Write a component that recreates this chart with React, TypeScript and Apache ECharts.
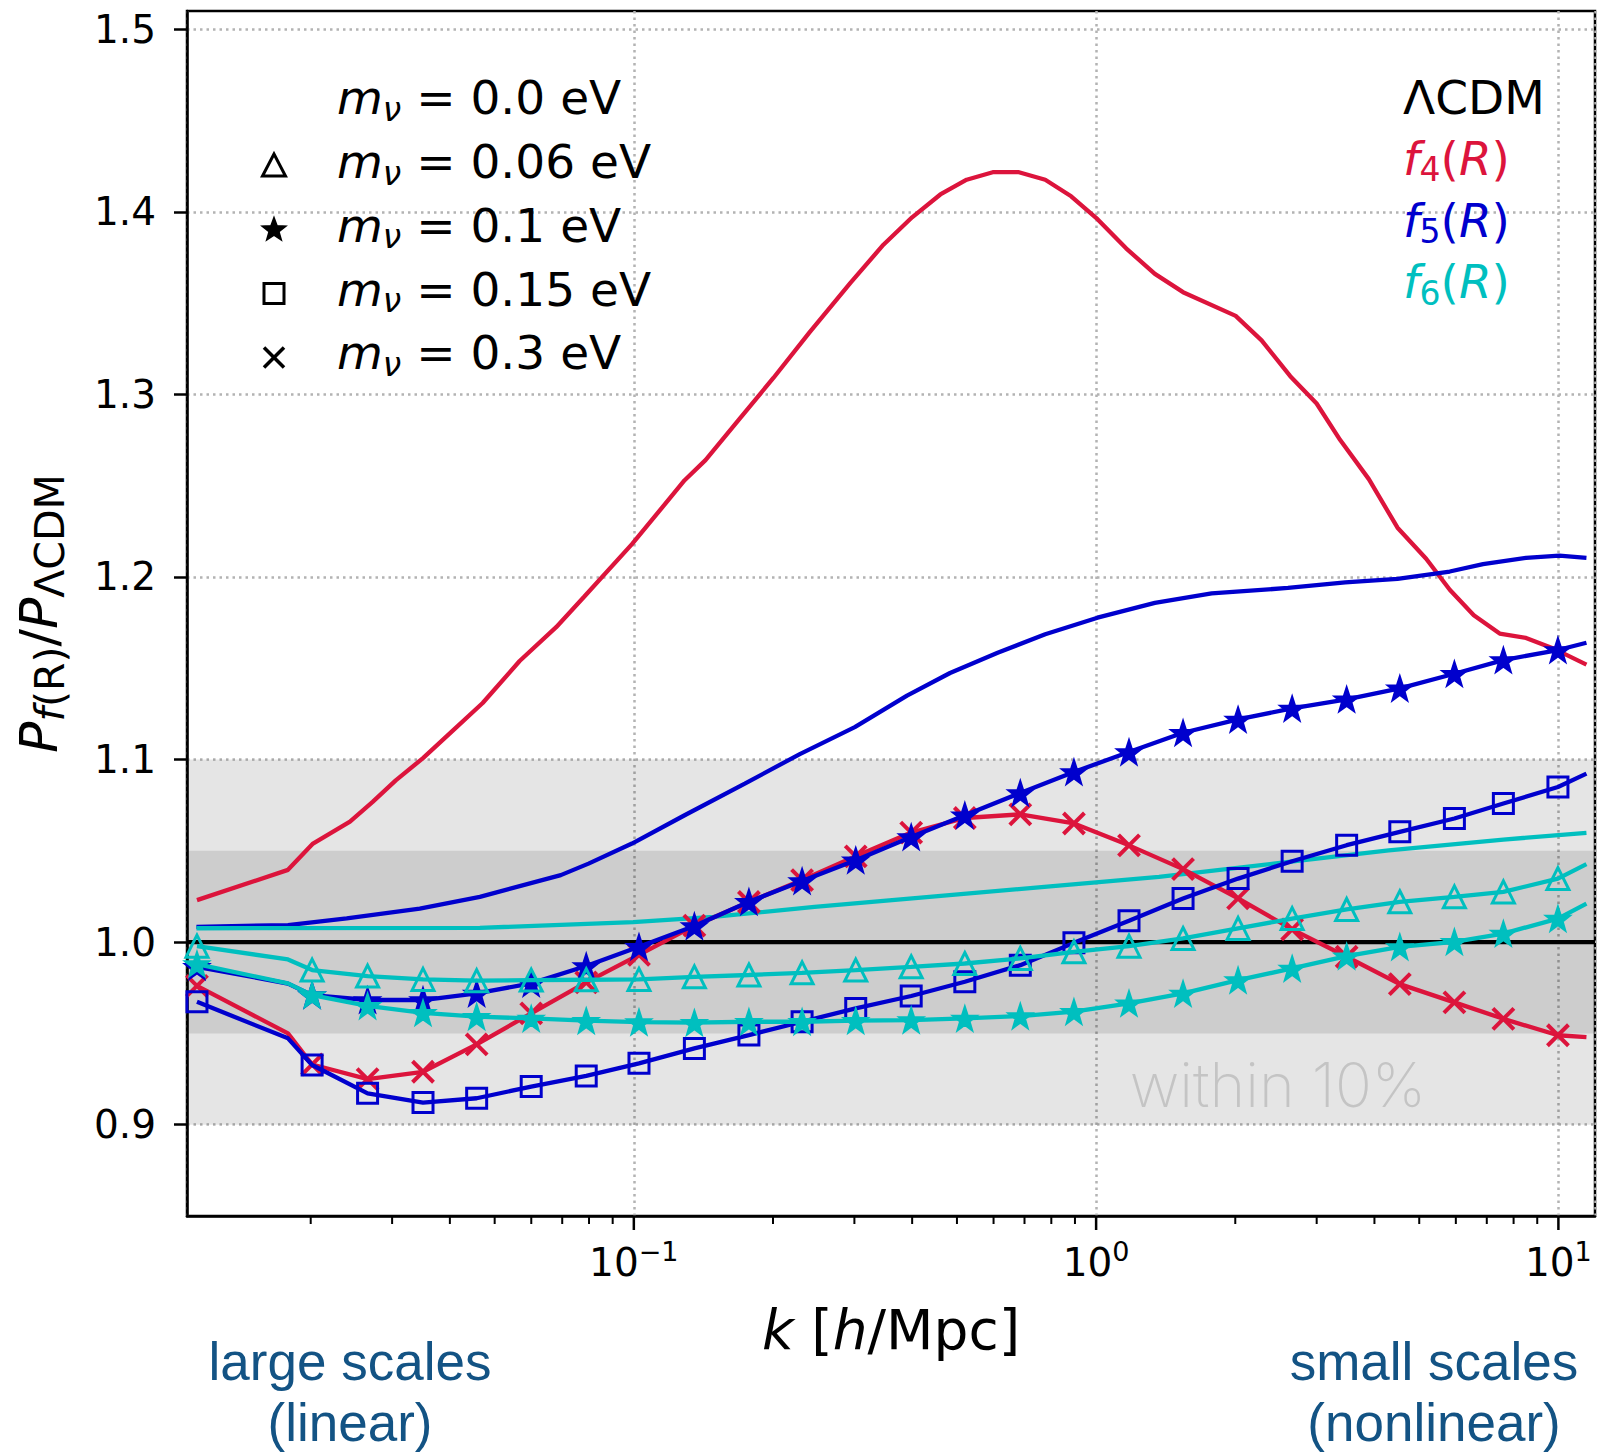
import React, { useEffect, useRef } from "react";
import * as echarts from "echarts";

// ---------------- data ----------------
const X_MIN = 0.0108;
const X_MAX = 12.0;
const Y_MIN = 0.85;
const Y_MAX = 1.51;
const X_MAJOR_TICKS = [0.1, 1, 10];
const X_MINOR_TICKS = [
  0.02, 0.03, 0.04, 0.05, 0.06, 0.07, 0.08, 0.09,
  0.2, 0.3, 0.4, 0.5, 0.6, 0.7, 0.8, 0.9,
  2, 3, 4, 5, 6, 7, 8, 9,
];
const Y_TICKS = [0.9, 1.0, 1.1, 1.2, 1.3, 1.4, 1.5];

// k bins of the massive-neutrino runs (index 1 and the last one carry no marker)
const K_BINS = [
  0.01135, 0.01786, 0.02014, 0.02655, 0.03499, 0.04571, 0.05998, 0.07889, 0.1026,
  0.1352, 0.1774, 0.2312, 0.302, 0.3981, 0.52, 0.6855, 0.8954, 1.178, 1.542, 2.028,
  2.655, 3.483, 4.539, 5.957, 7.603, 9.977, 11.5,
];
const UNMARKED_BINS = [1, 26];

const F4_NU03 = [
  0.976, 0.95, 0.933, 0.925, 0.929, 0.944, 0.961, 0.978, 0.993, 1.009, 1.022, 1.034,
  1.047, 1.06, 1.068, 1.07, 1.065, 1.053, 1.04, 1.024, 1.007, 0.992, 0.977, 0.967,
  0.958, 0.949, 0.948,
];
const F5_NU01 = [
  0.9865, 0.9773, 0.971, 0.9683, 0.9683, 0.9719, 0.9774, 0.9869, 0.9975, 1.0088, 1.0221,
  1.0335, 1.0449, 1.0576, 1.0695, 1.0817, 1.0932, 1.1041, 1.1147, 1.122, 1.128, 1.133,
  1.139, 1.147, 1.1545, 1.16, 1.164,
];
const F5_NU015 = [
  0.9673, 0.9473, 0.9327, 0.9172, 0.9121, 0.9145, 0.9209, 0.9267, 0.9336, 0.9418, 0.9491,
  0.9564, 0.9637, 0.9705, 0.9783, 0.9874, 0.9996, 1.0117, 1.0239, 1.0348, 1.0443, 1.0531,
  1.0604, 1.0677, 1.0759, 1.085, 1.0923,
];
const F6_NU006 = [
  0.9978, 0.9905, 0.9847, 0.9814, 0.9796, 0.9789, 0.9792, 0.9794, 0.9796, 0.981, 0.982,
  0.9832, 0.9847, 0.9865, 0.9883, 0.9911, 0.9947, 0.9978, 1.002, 1.0075, 1.0129, 1.0179,
  1.0221, 1.0248, 1.0275, 1.0348, 1.0427,
];
const F6_NU01 = [
  0.988, 0.9774, 0.971, 0.9651, 0.9613, 0.9592, 0.9582, 0.957, 0.9562, 0.9559, 0.9564,
  0.9564, 0.957, 0.9573, 0.9582, 0.9595, 0.9619, 0.9665, 0.9719, 0.9792, 0.9856, 0.9923,
  0.9974, 1.0002, 1.0047, 1.0129, 1.0211,
];

// massless-neutrino runs
const K_F4_NU0 = [
  0.01135, 0.01786, 0.02023, 0.02432, 0.02723, 0.03055, 0.03499, 0.04064, 0.0471, 0.05662,
  0.06792, 0.07798, 0.09908, 0.1151, 0.1288, 0.1429, 0.1698, 0.2004, 0.2399, 0.2938,
  0.3467, 0.3999, 0.4603, 0.5248, 0.5976, 0.6808, 0.7762, 0.8831, 1.007, 1.161, 1.34,
  1.542, 2.004, 2.28, 2.63, 2.999, 3.373, 3.89, 4.487, 5.176, 5.821, 6.561, 7.464, 8.511,
  9.817, 11.5,
];
const F4_NU0 = [
  1.023, 1.0396, 1.054, 1.066, 1.0768, 1.0886, 1.1008, 1.116, 1.131, 1.154, 1.1725, 1.189,
  1.218, 1.238, 1.253, 1.264, 1.287, 1.309, 1.334, 1.361, 1.382, 1.397, 1.4095, 1.4176,
  1.4217, 1.4217, 1.4176, 1.4085, 1.396, 1.38, 1.366, 1.356, 1.343, 1.3296, 1.31, 1.295,
  1.275, 1.2536, 1.227, 1.21, 1.193, 1.179, 1.169, 1.1666, 1.1605, 1.152,
];
const K_F5_NU0 = [
  0.01132, 0.01786, 0.02393, 0.03443, 0.04645, 0.0695, 0.0798, 0.09908, 0.1288, 0.1738,
  0.2286, 0.3006, 0.3899, 0.4831, 0.6124, 0.7762, 1.007, 1.34, 1.778, 2.6, 3.459, 4.487,
  5.821, 6.871, 8.511, 10.05, 11.5,
];
const F5_NU0 = [
  1.0084, 1.0093, 1.013, 1.0184, 1.0248, 1.0367, 1.043, 1.054, 1.0695, 1.0868, 1.103,
  1.1178, 1.135, 1.1474, 1.1585, 1.1686, 1.1777, 1.1858, 1.191, 1.194, 1.197, 1.199,
  1.203, 1.207, 1.2105, 1.2117, 1.2105,
];
const K_F6_NU0 = [
  0.01132, 0.04645, 0.09966, 0.1486, 0.246, 0.4359, 0.7727, 1.368, 2.421, 4.295, 7.603, 11.5,
];
const F6_NU0 = [
  1.0076, 1.0078, 1.011, 1.0138, 1.0193, 1.0248, 1.0303, 1.0357, 1.043, 1.0503, 1.0562,
  1.0598,
];

const LEFT_LEGEND = ["0.0 eV", "0.06 eV", "0.1 eV", "0.15 eV", "0.3 eV"];
const RIGHT_LEGEND = ["ΛCDM", "4", "5", "6"];

// ---------------- styling ----------------
const RED = "#dc143c";
const BLUE = "#0000cd";
const CYAN = "#00bfbf";
const FONT = "DejaVu Sans";
const STAR =
  "path://M50,0 L61.8,35.1 L97.6,35.1 L68.9,56.7 L79.4,91 L50,70.3 L20.6,91 L31.1,56.7 L2.4,35.1 L38.2,35.1 Z";
const CROSS = "path://M0,0 L10,10 M10,0 L0,10";
const LINE_W = 4.3;

function solid(name: string, ks: number[], vs: number[], color: string, z: number) {
  return {
    name,
    type: "line",
    data: ks.map((k, i) => [k, vs[i]]),
    symbol: "none",
    lineStyle: { color, width: LINE_W },
    itemStyle: { color },
    z,
    silent: true,
  };
}

function marked(
  name: string,
  vs: number[],
  color: string,
  symbol: string,
  size: number,
  filled: boolean,
  border: number,
  z: number
) {
  return {
    name,
    type: "line",
    data: K_BINS.map((k, i) =>
      UNMARKED_BINS.indexOf(i) >= 0 ? { value: [k, vs[i]], symbol: "none" } : [k, vs[i]]
    ),
    symbol,
    symbolSize: size,
    showSymbol: true,
    lineStyle: { color, width: LINE_W },
    itemStyle: filled
      ? { color, borderColor: color, borderWidth: border }
      : { color: "rgba(0,0,0,0)", borderColor: color, borderWidth: border },
    z,
    silent: true,
  };
}

function starPoints(cx: number, cy: number, R: number, r: number) {
  const pts: number[][] = [];
  for (let i = 0; i < 10; i++) {
    const a = -Math.PI / 2 + (i * Math.PI) / 5;
    const rr = i % 2 === 0 ? R : r;
    pts.push([cx + rr * Math.cos(a), cy + rr * Math.sin(a) + 1.5]);
  }
  return pts;
}

function buildGraphics(extra: any[]) {
  const legendRich = (color: string) => ({
    i: { fontFamily: FONT, fontStyle: "italic", fontSize: 47, lineHeight: 56, fill: color },
    n: { fontFamily: FONT, fontStyle: "italic", fontSize: 33, lineHeight: 34, verticalAlign: "bottom", fill: color },
    d: { fontFamily: FONT, fontSize: 33, lineHeight: 34, verticalAlign: "bottom", fill: color },
    r: { fontFamily: FONT, fontSize: 47, lineHeight: 56, fill: color },
  });

  const leftRows = [97.5, 161.7, 225, 289.2, 352.5];
  const graphics: any[] = [];
  LEFT_LEGEND.forEach((lab, i) => {
    graphics.push({
      type: "text",
      x: 337,
      y: leftRows[i],
      style: {
        text: `{i|m}{n|ν}{r| = ${lab}}`,
        rich: legendRich("#000"),
        verticalAlign: "middle",
        align: "left",
      },
      z: 50,
    });
  });
  // legend marker glyphs
  graphics.push({
    type: "polygon",
    shape: { points: [[274, 154], [262.5, 176], [285.5, 176]] },
    style: { fill: "none", stroke: "#000", lineWidth: 3 },
    z: 50,
  });
  graphics.push({
    type: "polygon",
    shape: { points: starPoints(274, 228.5, 12.5, 5.2) },
    style: { fill: "#000", stroke: "#000", lineWidth: 1.5 },
    z: 50,
  });
  graphics.push({
    type: "rect",
    shape: { x: 264, y: 283.5, width: 20, height: 20 },
    style: { fill: "none", stroke: "#000", lineWidth: 3 },
    z: 50,
  });
  graphics.push({
    type: "line",
    shape: { x1: 264, y1: 347.5, x2: 284, y2: 367.5 },
    style: { stroke: "#000", lineWidth: 3.5 },
    z: 50,
  });
  graphics.push({
    type: "line",
    shape: { x1: 284, y1: 347.5, x2: 264, y2: 367.5 },
    style: { stroke: "#000", lineWidth: 3.5 },
    z: 50,
  });

  // model legend
  const rightRows = [97.5, 158.3, 220, 281.7];
  const rightColors = ["#000", RED, BLUE, CYAN];
  RIGHT_LEGEND.forEach((lab, i) => {
    const text = i === 0 ? `{r|${lab}}` : `{i|f}{d|${lab}}{r|(}{i|R}{r|)}`;
    graphics.push({
      type: "text",
      x: 1403,
      y: rightRows[i],
      style: {
        text,
        rich: legendRich(rightColors[i]),
        fill: rightColors[i],
        verticalAlign: "middle",
        align: "left",
      },
      z: 50,
    });
  });

  // annotations
  graphics.push({
    type: "text",
    x: 1278,
    y: 1085,
    style: {
      text: "within 10%",
      fontFamily: "Inter",
      fontWeight: 200,
      fontSize: 61,
      fill: "#c4c4c4",
      align: "center",
      verticalAlign: "middle",
    },
    z: 3,
  });
  graphics.push({
    type: "text",
    x: 350,
    y: 1331,
    style: {
      text: "large scales\n(linear)",
      fontFamily: "Liberation Sans",
      fontSize: 53,
      lineHeight: 61,
      fill: "#135384",
      align: "center",
      verticalAlign: "top",
    },
  });
  graphics.push({
    type: "text",
    x: 1434,
    y: 1331,
    style: {
      text: "small scales\n(nonlinear)",
      fontFamily: "Liberation Sans",
      fontSize: 53,
      lineHeight: 61,
      fill: "#135384",
      align: "center",
      verticalAlign: "top",
    },
  });
  return graphics.concat(extra);
}

function buildOption(extra: any[]) {
  const supRich = {
    b: { fontFamily: FONT, fontSize: 39, lineHeight: 48, color: "#000" },
    s: { fontFamily: FONT, fontSize: 27, lineHeight: 24, verticalAlign: "top", color: "#000" },
  };
  const gridLine = { show: true, lineStyle: { color: "#b3b3b3", width: 2.5, type: [2.5, 4] } };

  return {
    animation: false,
    backgroundColor: "#fff",
    textStyle: { fontFamily: FONT },
    grid: {
      left: 187,
      right: 7,
      top: 11,
      bottom: 239,
      show: true,
      borderColor: "#000",
      borderWidth: 2.5,
      backgroundColor: "transparent",
    },
    xAxis: {
      type: "log",
      logBase: 10,
      min: X_MIN,
      max: X_MAX,
      position: "bottom",
      axisLine: { show: true, lineStyle: { color: "#000", width: 2.5 } },
      axisTick: { show: false },
      axisLabel: {
        show: true,
        customValues: X_MAJOR_TICKS,
        margin: 22,
        formatter: (v: number) => {
          const e = Math.round(Math.log10(v));
          return `{b|10}{s|${e < 0 ? "−" + -e : e}}`;
        },
        rich: supRich,
      },
      splitLine: gridLine,
      name: "{i|k} [{i|h}/Mpc]",
      nameLocation: "middle",
      nameGap: 86,
      nameTextStyle: {
        fontFamily: FONT,
        fontSize: 55,
        color: "#000",
        rich: { i: { fontFamily: FONT, fontStyle: "italic", fontSize: 55, color: "#000" } },
      },
    },
    yAxis: {
      type: "value",
      min: Y_MIN,
      max: Y_MAX,
      axisLine: { show: true, lineStyle: { color: "#000", width: 2.5 } },
      axisTick: {
        show: true,
        customValues: Y_TICKS,
        length: 13,
        lineStyle: { color: "#000", width: 2.5 },
      },
      axisLabel: {
        customValues: Y_TICKS,
        margin: 31,
        fontSize: 39,
        fontFamily: FONT,
        color: "#000",
        formatter: (v: number) => v.toFixed(1),
      },
      splitLine: gridLine,
      name: "{P|P}{sf|f}{s|(R)}{r|/}{P|P}{s|ΛCDM}",
      nameLocation: "middle",
      nameRotate: 90,
      nameGap: 117,
      nameTextStyle: {
        color: "#000",
        rich: {
          P: { fontFamily: FONT, fontStyle: "italic", fontSize: 52, lineHeight: 62, color: "#000" },
          r: { fontFamily: FONT, fontSize: 52, lineHeight: 62, color: "#000" },
          sf: { fontFamily: FONT, fontStyle: "italic", fontSize: 41, lineHeight: 40, verticalAlign: "bottom", color: "#000" },
          s: { fontFamily: FONT, fontSize: 41, lineHeight: 40, verticalAlign: "bottom", color: "#000" },
        },
      },
    },
    graphic: buildGraphics(extra),
    series: [
      {
        name: "ΛCDM",
        type: "line",
        data: [
          [X_MIN, 1],
          [X_MAX, 1],
        ],
        symbol: "none",
        lineStyle: { color: "#000", width: LINE_W },
        itemStyle: { color: "#000" },
        z: 2,
        silent: true,
        markArea: {
          silent: true,
          itemStyle: { color: "rgba(0,0,0,0.1)" },
          data: [
            [{ yAxis: 0.9 }, { yAxis: 1.1 }],
            [{ yAxis: 0.95 }, { yAxis: 1.05 }],
          ],
        },
      },
      solid("f4(R) mν=0.0", K_F4_NU0, F4_NU0, RED, 3),
      solid("f5(R) mν=0.0", K_F5_NU0, F5_NU0, BLUE, 4),
      solid("f6(R) mν=0.0", K_F6_NU0, F6_NU0, CYAN, 5),
      marked("f4(R) mν=0.3", F4_NU03, RED, CROSS, 21, false, 4, 6),
      marked("f5(R) mν=0.15", F5_NU015, BLUE, "rect", 20, false, 3, 7),
      marked("f5(R) mν=0.1", F5_NU01, BLUE, STAR, 24, true, 2, 8),
      marked("f6(R) mν=0.06", F6_NU006, CYAN, "triangle", 22, false, 3, 9),
      marked("f6(R) mν=0.1", F6_NU01, CYAN, STAR, 24, true, 2, 10),
    ],
  };
}

export default function App() {
  const ref = useRef<HTMLDivElement>(null);
  useEffect(() => {
    if (!ref.current) return;
    const chart = echarts.init(ref.current, undefined, { renderer: "svg" });
    chart.setOption(buildOption([]) as any);
    // x-axis log ticks (major + minor), placed through the x axis' own scale
    const ticks: any[] = [];
    try {
      const yBase = chart.convertToPixel({ yAxisIndex: 0 }, Y_MIN) as number;
      const mk = (v: number, len: number, w: number) => {
        const x = chart.convertToPixel({ xAxisIndex: 0 }, v) as number;
        return {
          type: "line",
          shape: { x1: x, y1: yBase, x2: x, y2: yBase + len },
          style: { stroke: "#000", lineWidth: w },
          z: 60,
        };
      };
      X_MAJOR_TICKS.forEach((v) => ticks.push(mk(v, 14, 2.5)));
      X_MINOR_TICKS.forEach((v) => ticks.push(mk(v, 8, 2)));
    } catch (e) {
      // keep chart without the extra ticks
    }
    chart.setOption(buildOption(ticks) as any, true);
    return () => chart.dispose();
  }, []);
  return (
    <div
      ref={ref}
      style={{ position: "absolute", left: 0, top: 0, width: 1602, height: 1455, background: "#fff" }}
    />
  );
}
